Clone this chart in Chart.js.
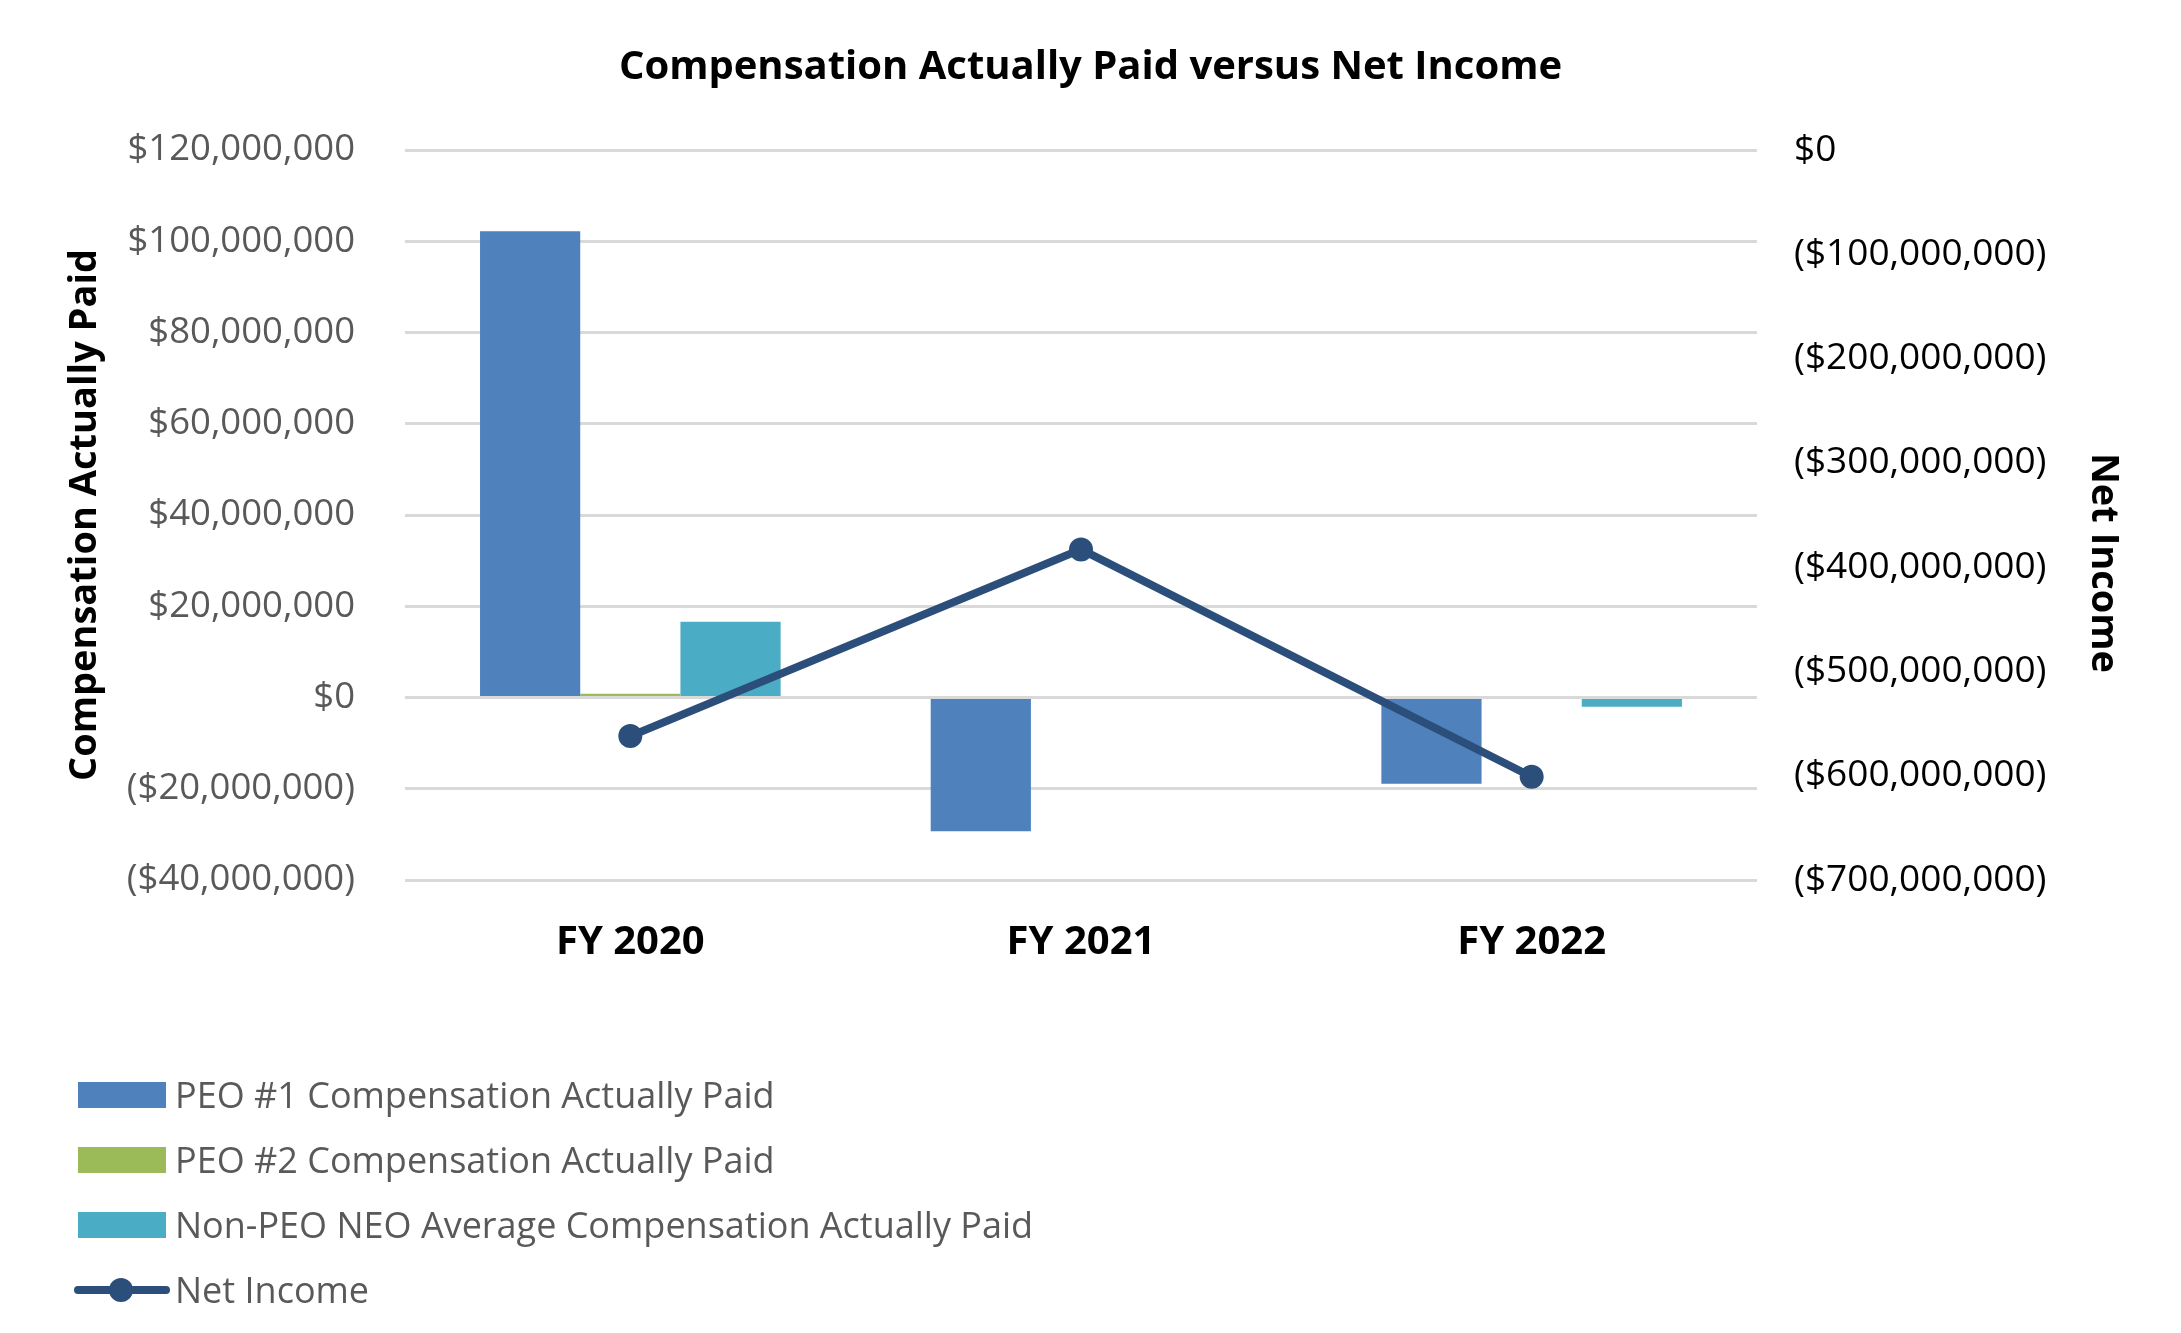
<!DOCTYPE html>
<html>
<head>
<meta charset="utf-8">
<script src="https://cdn.jsdelivr.net/npm/chart.js@4"></script>
<style>
  body { margin: 0; background: #fff; }
  #wrap { position: relative; width: 2181px; height: 1333px; }
  #legend { position: absolute; left: 0; top: 0; width: 1200px; font-family: "Open Sans"; color: #595959; font-size: 36px; }
  .item { position: absolute; left: 0; height: 50px; width: 1200px; }
  .item .txt { position: absolute; left: 175px; top: 0; line-height: 50px; white-space: nowrap; }
  .box { position: absolute; left: 78px; top: 12px; width: 88px; height: 26px; }
  .ln { position: absolute; left: 74px; top: 21px; width: 96px; height: 8px; border-radius: 4px; }
  .dot { position: absolute; left: 109px; top: 13px; width: 24px; height: 24px; border-radius: 50%; }
</style>
</head>
<body>
<div id="wrap">
  <canvas id="myChart"></canvas>
  <div id="legend"></div>
</div>
<script>
// datos
const years = ['FY 2020', 'FY 2021', 'FY 2022'];
const peo1Cap = [102200000, -29300000, -18900000];
const peo2Cap = [800000, null, null];
const nonPeoCap = [16600000, null, -2000000];
const netIncome = [-562000000, -383000000, -601000000];

const seriesNames = ['PEO #1 Compensation Actually Paid', 'PEO #2 Compensation Actually Paid',
                     'Non-PEO NEO Average Compensation Actually Paid', 'Net Income'];
const seriesColors = ['#4F81BD', '#9BBB59', '#4BACC6', '#2C4E7A'];

function money(v) {
    let s = '$' + Math.abs(v).toLocaleString('en-US');
    return v < 0 ? '(' + s + ')' : s;
}

Chart.defaults.font.family = '"Open Sans"';

// titulo del eje derecho, algo por debajo del centro como en el original
const rightTitle = {
    id: 'rightTitle',
    afterDraw(chart) {
        const c = chart.ctx;
        c.save();
        c.translate(2103, 563);
        c.rotate(Math.PI / 2);
        c.font = 'bold 38px "Open Sans"';
        c.fillStyle = '#000';
        c.textAlign = 'center';
        c.textBaseline = 'middle';
        c.fillText('Net Income', 0, 0);
        c.restore();
    }
};

const ctx = document.getElementById('myChart');
new Chart(ctx, {
    type: 'bar',
    data: {
        labels: years,
        datasets: [
            { label: seriesNames[0], data: peo1Cap, backgroundColor: seriesColors[0], yAxisID: 'y', order: 2 },
            { label: seriesNames[1], data: peo2Cap, backgroundColor: seriesColors[1], yAxisID: 'y', order: 2 },
            { label: seriesNames[2], data: nonPeoCap, backgroundColor: seriesColors[2], yAxisID: 'y', order: 2 },
            { type: 'line', label: seriesNames[3], data: netIncome, yAxisID: 'y1', order: 1,
              borderColor: seriesColors[3], backgroundColor: seriesColors[3], borderWidth: 8,
              pointRadius: 12, pointHoverRadius: 12, pointBorderWidth: 0, tension: 0 }
        ]
    },
    options: {
        responsive: true,
        maintainAspectRatio: false,
        animation: false,
        layout: { padding: { left: 0, right: 0, top: 0, bottom: 373 } },
        datasets: { bar: { categoryPercentage: 0.667, barPercentage: 1.0 } },
        plugins: {
            legend: { display: false },
            tooltip: { enabled: false },
            title: {
                display: true,
                text: 'Compensation Actually Paid versus Net Income',
                color: '#000',
                font: { size: 40, weight: 'bold' },
                padding: { top: 44, bottom: 58 }
            }
        },
        scales: {
            x: {
                grid: { display: false },
                border: { display: false },
                ticks: { color: '#000', font: { size: 40, weight: 'bold' }, padding: 31 },
                afterFit: s => { s.height = 80; }
            },
            y: {
                position: 'left',
                min: -40000000, max: 120000000,
                grid: { color: '#D9D9D9', lineWidth: 3, drawTicks: false },
                border: { display: false },
                ticks: { stepSize: 20000000, color: '#595959', font: { size: 36.5 }, padding: 50, callback: v => money(v) },
                title: { display: true, text: 'Compensation Actually Paid', color: '#000',
                         font: { size: 38, weight: 'bold' }, padding: { top: 62, bottom: 0 } },
                afterFit: s => { s.width = 405; }
            },
            y1: {
                position: 'right',
                min: -700000000, max: 0,
                grid: { display: false, drawTicks: false },
                border: { display: false },
                ticks: { stepSize: 100000000, color: '#000', font: { size: 37 }, padding: 37, callback: v => money(v) },
                afterFit: s => { s.width = 424; }
            }
        }
    },
    plugins: [rightTitle]
});

// leyenda en html
const legend = document.getElementById('legend');
const rowsY = [1070, 1135, 1200, 1265];
for (let i = 0; i < seriesNames.length; i++) {
    const it = document.createElement('div');
    it.className = 'item';
    it.style.top = rowsY[i] + 'px';
    if (i < 3) {
        it.innerHTML = '<div class="box" style="background:' + seriesColors[i] + '"></div>';
    } else {
        it.innerHTML = '<div class="ln" style="background:' + seriesColors[i] + '"></div>' +
                       '<div class="dot" style="background:' + seriesColors[i] + '"></div>';
    }
    it.innerHTML += '<span class="txt">' + seriesNames[i] + '</span>';
    legend.appendChild(it);
}
</script>
</body>
</html>
